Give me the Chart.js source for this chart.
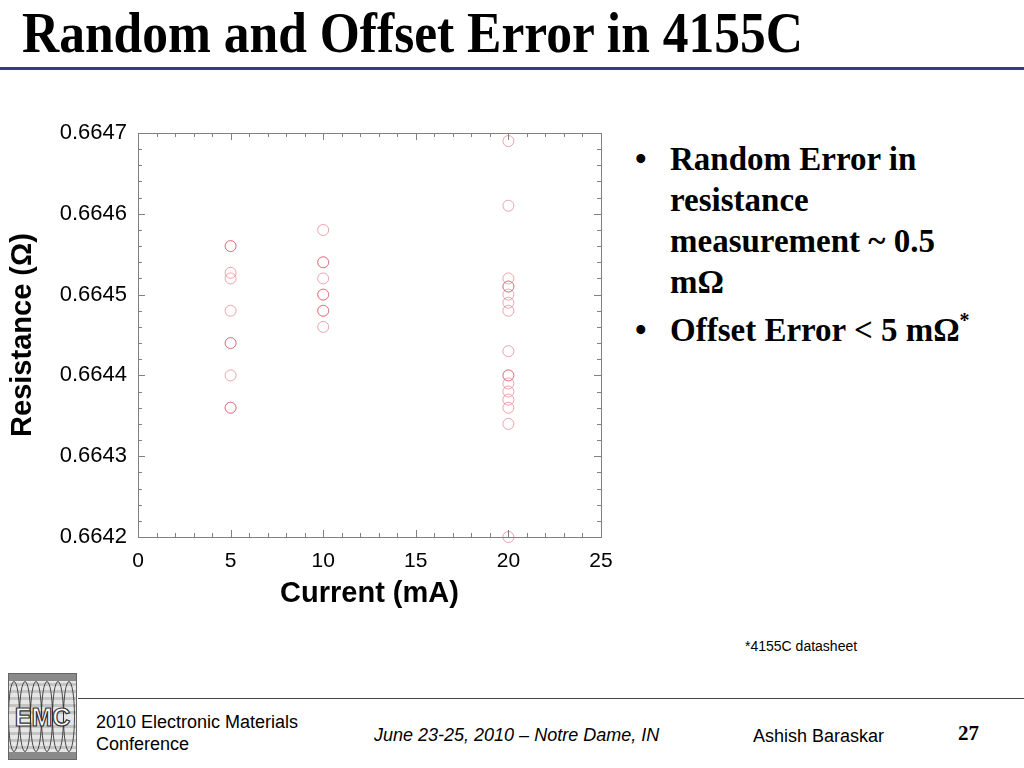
<!DOCTYPE html>
<html>
<head>
<meta charset="utf-8">
<title>Random and Offset Error in 4155C</title>
<script src="https://cdn.jsdelivr.net/npm/chart.js@4.4.1/dist/chart.umd.min.js"></script>
<style>
  html, body { margin: 0; padding: 0; background: #fff; }
  body { width: 1024px; height: 768px; position: relative; overflow: hidden; font-family: "Liberation Sans", Arial, sans-serif; color: #000; }
  .abs { position: absolute; white-space: nowrap; }
  #title { left: 22px; top: 5px; font: bold 56px/56px "Liberation Serif", "Times New Roman", serif; transform: scaleX(0.92); transform-origin: left top; }
  #titleRule { left: 0; right: 0; top: 67px; height: 3px; background: #3a3a8c; }
  #plotWrap { left: 0; top: 110px; width: 620px; height: 510px; }
  .bullet { font: bold 33px/41px "Liberation Serif", "Times New Roman", serif; }
  .bullet .dot { position: absolute; left: -35px; }
  sup { font-size: 20px; line-height: 0; vertical-align: 14px; }
  #note { left: 745px; top: 637px; font-size: 14px; line-height: 18px; }
  #footRule { left: 78px; right: 0; top: 698px; height: 1px; background: #444; }
  .foot { font-size: 18px; line-height: 22px; }
</style>
</head>
<body>
<div id="title" class="abs">Random and Offset Error in 4155C</div>
<div id="titleRule" class="abs"></div>

<div id="plotWrap" class="abs"><canvas id="chart" width="620" height="510"></canvas></div>

<div class="abs bullet" style="left:670px; top:139px;"><span class="dot">•</span>Random Error in<br>resistance<br>measurement ~ 0.5<br>mΩ</div>
<div class="abs bullet" style="left:670px; top:310px;"><span class="dot">•</span>Offset Error &lt; 5 mΩ<sup>*</sup></div>

<div id="note" class="abs">*4155C datasheet</div>

<svg class="abs" style="left:8px; top:673px;" width="69" height="87" viewBox="0 0 69 87">
  <rect x="0" y="0" width="69" height="87" fill="#e6e6e6"/>
  <g fill="#c4c4c4">
    <rect x="0" y="10" width="69" height="3"/><rect x="0" y="17" width="69" height="3"/>
    <rect x="0" y="24" width="69" height="3"/><rect x="0" y="31" width="69" height="3"/>
    <rect x="0" y="38" width="69" height="3"/><rect x="0" y="52" width="69" height="3"/>
    <rect x="0" y="59" width="69" height="3"/><rect x="0" y="66" width="69" height="3"/>
    <rect x="0" y="73" width="69" height="3"/>
  </g>
  <rect x="0" y="0" width="69" height="8" fill="#8a8a8a"/>
  <rect x="0" y="79" width="69" height="8" fill="#8a8a8a"/>
  <g fill="none" stroke="#222" stroke-width="0.8">
    <ellipse cx="6" cy="43.5" rx="5.5" ry="35"/><ellipse cx="17" cy="43.5" rx="5.5" ry="35"/>
    <ellipse cx="28" cy="43.5" rx="5.5" ry="35"/><ellipse cx="39" cy="43.5" rx="5.5" ry="35"/>
    <ellipse cx="50" cy="43.5" rx="5.5" ry="35"/><ellipse cx="61" cy="43.5" rx="5.5" ry="35"/>
  </g>
  <text x="34.5" y="53" text-anchor="middle" font-family="Liberation Sans, Arial, sans-serif" font-weight="bold" font-size="25" fill="#fff" stroke="#333" stroke-width="1.2">EMC</text>
  <rect x="0.5" y="0.5" width="68" height="86" fill="none" stroke="#666"/>
</svg>
<div id="footRule" class="abs"></div>
<div class="abs foot" style="left:96px; top:711px;">2010 Electronic Materials<br>Conference</div>
<div class="abs foot" style="left:374px; top:724px; font-style:italic;">June 23-25, 2010 – Notre Dame, IN</div>
<div class="abs foot" style="left:753px; top:725px;">Ashish Baraskar</div>
<div class="abs" style="left:958px; top:721px; font: bold 21px/24px 'Liberation Serif', 'Times New Roman', serif;">27</div>

<script>
const currentLevels = [5, 10, 20];
const r5mA  = [0.66456, 0.66456, 0.664527, 0.66452, 0.66448, 0.66444, 0.66444, 0.6644, 0.66436, 0.66436];
const r10mA = [0.66458, 0.66454, 0.66454, 0.66452, 0.6645, 0.6645, 0.66448, 0.66448, 0.66446];
const r20mA = [0.66469, 0.66461, 0.66452, 0.66451, 0.66451, 0.6645, 0.66449, 0.66448, 0.66443,
               0.6644, 0.6644, 0.66439, 0.66438, 0.66437, 0.66436, 0.66434, 0.6642];

const xTicks = [0, 5, 10, 15, 20, 25];
const yTicks = [0.6642, 0.6643, 0.6644, 0.6645, 0.6646, 0.6647];

const X_MINOR = 1;
const Y_MINOR = 0.00002;
const FRAME = "#808080";

const points = [];
[r5mA, r10mA, r20mA].forEach((vals, i) => {
  vals.forEach(v => points.push({ x: currentLevels[i], y: v }));
});

// boxed frame with inward major/minor ticks on all four sides
const frameTicks = {
  id: "frameTicks",
  beforeDatasetsDraw(chart) {
    const { ctx, chartArea: a, scales: { x, y } } = chart;
    ctx.save();
    ctx.strokeStyle = FRAME;
    ctx.lineWidth = 1;
    ctx.strokeRect(Math.round(a.left) + 0.5, Math.round(a.top) + 0.5,
                   Math.round(a.right - a.left), Math.round(a.bottom - a.top));
    ctx.beginPath();
    const xn = Math.round((x.max - x.min) / X_MINOR);
    for (let i = 0; i <= xn; i++) {
      const px = Math.round(x.getPixelForValue(x.min + i * X_MINOR)) + 0.5;
      const len = i % 5 === 0 ? 7 : 4;
      ctx.moveTo(px, a.bottom); ctx.lineTo(px, a.bottom - len);
      ctx.moveTo(px, a.top); ctx.lineTo(px, a.top + len);
    }
    const yn = Math.round((y.max - y.min) / Y_MINOR);
    for (let k = 0; k <= yn; k++) {
      const py = Math.round(y.getPixelForValue(y.min + k * Y_MINOR)) + 0.5;
      const len = k % 5 === 0 ? 7 : 4;
      ctx.moveTo(a.left, py); ctx.lineTo(a.left + len, py);
      ctx.moveTo(a.right, py); ctx.lineTo(a.right - len, py);
    }
    ctx.stroke();
    ctx.restore();
  },
};

new Chart(document.getElementById("chart"), {
  type: "scatter",
  data: {
    datasets: [{
      data: points,
      pointStyle: "circle",
      pointRadius: 5.5,
      pointHoverRadius: 5.5,
      pointBorderWidth: 1,
      borderColor: "rgba(215, 80, 95, 0.5)",
      backgroundColor: "rgba(0,0,0,0)",
      clip: false,
    }],
  },
  options: {
    responsive: false,
    animation: false,
    events: [],
    layout: { padding: { left: 0, top: 23, right: 19, bottom: 0 } },
    plugins: { legend: { display: false }, tooltip: { enabled: false } },
    scales: {
      x: {
        type: "linear", min: 0, max: 25,
        afterBuildTicks: s => { s.ticks = xTicks.map(v => ({ value: v })); },
        afterFit: s => { s.height = 83; s.paddingLeft = 0; s.paddingRight = 0; },
        grid: { display: false, drawTicks: false },
        border: { display: false },
        ticks: { color: "#000", padding: 12, font: { family: "Liberation Sans, Arial", size: 21 } },
        title: {
          display: true, text: "Current (mA)", color: "#000",
          font: { family: "Liberation Sans, Arial", size: 29, weight: "bold" },
          padding: { top: 0, bottom: 9 },
        },
      },
      y: {
        type: "linear", min: 0.6642, max: 0.6647,
        afterBuildTicks: s => { s.ticks = yTicks.map(v => ({ value: v })); },
        afterFit: s => { s.width = 138; s.paddingTop = 0; s.paddingBottom = 0; },
        grid: { display: false, drawTicks: false },
        border: { display: false },
        ticks: {
          color: "#000", padding: 11,
          font: { family: "Liberation Sans, Arial", size: 22 },
          callback: v => Number(v).toFixed(4),
        },
        title: {
          display: true, text: "Resistance (Ω)", color: "#000",
          font: { family: "Liberation Sans, Arial", size: 29, weight: "bold" },
          padding: { top: 6, bottom: 0 },
        },
      },
    },
  },
  plugins: [frameTicks],
});
</script>
</body>
</html>
